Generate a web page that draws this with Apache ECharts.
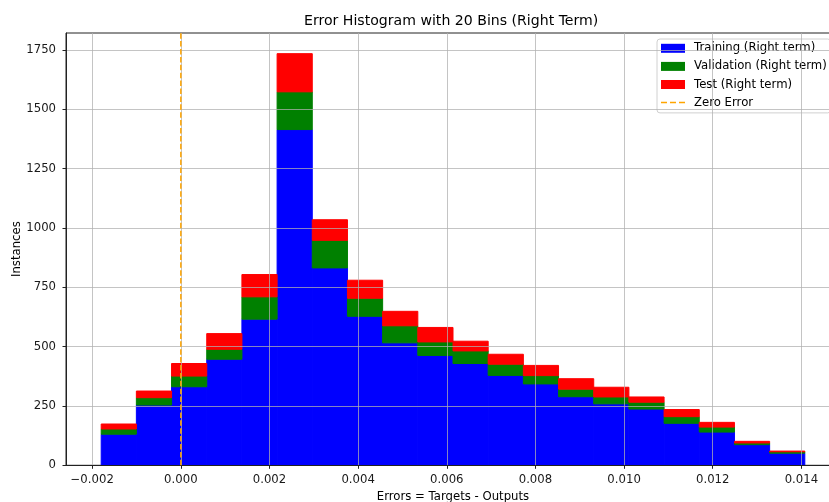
<!DOCTYPE html>
<html>
<head>
<meta charset="utf-8">
<script src="https://cdn.jsdelivr.net/npm/echarts@6/dist/echarts.min.js"></script>
<style>
html,body{margin:0;padding:0;background:#fff;}
#chart{width:829px;height:502px;}
</style>
</head>
<body>
<div id="chart"></div>
<script>
// ---- data ----
const binLo = -0.001797;      // left edge of first bin
const binHi = 0.014077;       // right edge of last bin
const binCount = 20;
const training   = [131, 254, 331, 447, 616, 1415, 832, 628, 516, 463, 429, 379, 343, 289, 259, 237, 177, 140, 87, 51];
const validation = [22, 31, 45, 42, 94, 159, 116, 76, 72, 57, 53, 47, 35, 32, 29, 29, 28, 21, 7, 6];
const test       = [21, 28, 53, 66, 94, 161, 87, 76, 61, 61, 41, 42, 43, 44, 41, 22, 30, 20, 7, 3];
const xTicks = [-0.002, 0.000, 0.002, 0.004, 0.006, 0.008, 0.010, 0.012, 0.014];
const yTicks = [0, 250, 500, 750, 1000, 1250, 1500, 1750];
const xRange = [-0.002591, 0.014871];
const yRange = [0, 1822];
const zeroErrorX = 0;

const FONT = 'DejaVu Sans';
const FS = 11.7;
const binW = (binHi - binLo) / binCount;
function stackRows(base, vals) {
  return vals.map((v, i) => {
    const x0 = binLo + i * binW, x1 = x0 + binW;
    const b = base ? base[i] : 0;
    return [x0, x1, b, b + v];
  });
}
const trainCum = training.slice();
const tvCum = training.map((v, i) => v + validation[i]);

function renderBar(params, api) {
  const p0 = api.coord([api.value(0), api.value(3)]);
  const p1 = api.coord([api.value(1), api.value(2)]);
  const c = api.visual('color');
  return {
    type: 'rect',
    shape: { x: p0[0], y: p0[1], width: p1[0] - p0[0], height: p1[1] - p0[1] },
    style: { fill: c, stroke: c, lineWidth: 1 }
  };
}
function fmtX(v) {
  const s = Math.abs(v).toFixed(3);
  return v < -1e-12 ? '\u2212' + s : s;
}

const chart = echarts.init(document.getElementById('chart'), null, { renderer: 'canvas' });
chart.setOption({
  animation: false,
  backgroundColor: '#fff',
  textStyle: { fontFamily: FONT },
  title: {
    text: 'Error Histogram with 20 Bins (Right Term)',
    left: 304, top: 14.5, padding: 0,
    textStyle: { fontFamily: FONT, fontSize: 14.1, fontWeight: 'normal', color: '#000' }
  },
  grid: {
    left: 66, top: 33, width: 774, height: 432.3,
    outerBoundsMode: 'none', containLabel: false,
    show: true, borderColor: '#222', borderWidth: 1, backgroundColor: 'transparent'
  },
  legend: {
    orient: 'vertical',
    left: 657, top: 39,
    padding: [2.8, 4, 3.8, 4],
    itemWidth: 24, itemHeight: 9, itemGap: 5.1,
    backgroundColor: 'rgba(255,255,255,0.8)',
    borderColor: '#d0d0d0', borderWidth: 1, borderRadius: 3,
    selectedMode: false,
    textStyle: { fontFamily: FONT, fontSize: FS, color: '#000', lineHeight: 13, padding: [0, 0, 0, 4] },
    data: [
      { name: 'Training (Right term)', icon: 'rect' },
      { name: 'Validation (Right term)', icon: 'rect' },
      { name: 'Test (Right term)', icon: 'rect' },
      { name: 'Zero Error', icon: 'path://M0,0h6v1.5h-6z M9,0h6v1.5h-6z M18,0h6v1.5h-6z',
        itemStyle: { color: '#ffa500' } }
    ]
  },
  xAxis: {
    type: 'value', min: xRange[0], max: xRange[1], z: 5,
    name: 'Errors = Targets - Outputs', nameLocation: 'middle', nameGap: 25.5, nameMoveOverlap: false,
    nameTextStyle: { fontFamily: FONT, fontSize: FS, color: '#000' },
    axisLine: { show: true, onZero: false, lineStyle: { color: '#222', width: 1 } },
    axisTick: { show: true, length: 3.5, customValues: xTicks, lineStyle: { color: '#222' } },
    axisLabel: { customValues: xTicks, margin: 8.5, fontFamily: FONT, fontSize: FS, color: '#1a1a1a', formatter: fmtX },
    splitLine: { show: true, lineStyle: { color: '#b0b0b0', width: 1, opacity: 0.75 } }
  },
  yAxis: {
    type: 'value', min: yRange[0], max: yRange[1], z: 5,
    name: 'Instances', nameLocation: 'middle', nameGap: 43, nameRotate: 90, nameMoveOverlap: false,
    nameTextStyle: { fontFamily: FONT, fontSize: FS, color: '#000' },
    axisLine: { show: true, onZero: false, lineStyle: { color: '#222', width: 1 } },
    axisTick: { show: true, length: 3.5, customValues: yTicks, lineStyle: { color: '#222' } },
    axisLabel: { customValues: yTicks, margin: 10, fontFamily: FONT, fontSize: FS, color: '#1a1a1a',
      formatter: v => String(Math.round(v)) },
    splitLine: { show: true, lineStyle: { color: '#b0b0b0', width: 1, opacity: 0.75 } }
  },
  series: [
    { name: 'Training (Right term)', type: 'custom', renderItem: renderBar, itemStyle: { color: '#0000ff' },
      encode: { x: [0, 1], y: [2, 3] }, data: stackRows(null, training), z: 2 },
    { name: 'Validation (Right term)', type: 'custom', renderItem: renderBar, itemStyle: { color: '#008000' },
      encode: { x: [0, 1], y: [2, 3] }, data: stackRows(trainCum, validation), z: 2 },
    { name: 'Test (Right term)', type: 'custom', renderItem: renderBar, itemStyle: { color: '#ff0000' },
      encode: { x: [0, 1], y: [2, 3] }, data: stackRows(tvCum, test), z: 2 },
    { name: 'Zero Error', type: 'line', symbol: 'none', z: 10,
      itemStyle: { color: '#ffa500' },
      lineStyle: { color: '#ffa500', width: 1.5, type: [5.5, 2.4] },
      data: [[zeroErrorX, yRange[0]], [zeroErrorX, yRange[1]]] }
  ]
});
</script>
</body>
</html>
